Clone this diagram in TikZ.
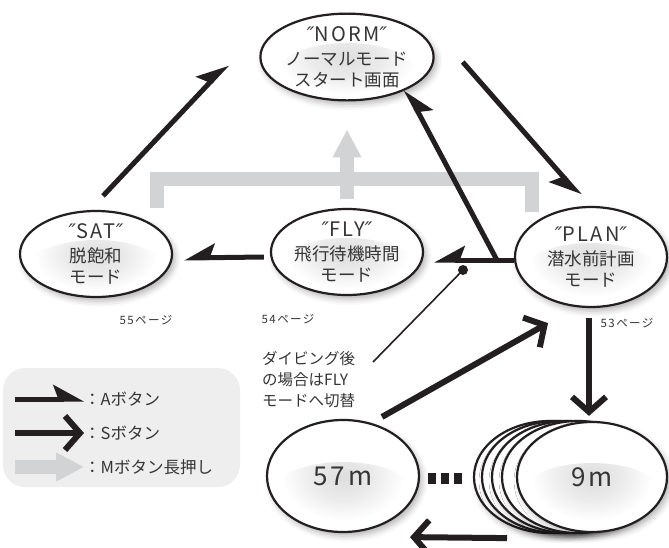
\documentclass[tikz,border=0pt]{standalone}
\usepackage{fontspec}
\setmainfont{Noto Sans CJK JP}
\newfontfamily\spfont[LetterSpace=12]{Noto Sans CJK JP}
\newfontfamily\qfont{DejaVu Sans}
\usetikzlibrary{shapes.geometric,arrows.meta,shadows.blur,positioning}
\definecolor{ink}{HTML}{231F20}
\definecolor{mgray}{HTML}{D1D3D4}
\definecolor{legbg}{HTML}{EEEEEE}
\definecolor{txt}{HTML}{363435}
\pgfdeclareradialshading{blob}{\pgfpointorigin}{color(0bp)=(black!13); color(10bp)=(black!8);
  color(20bp)=(white); color(50bp)=(white)}

\tikzset{
  mode/.style={ellipse, draw=ink, line width=2.2pt, fill=white, minimum width=152pt,
    minimum height=86pt, inner sep=0pt, align=center, text=txt,
    font=\fontsize{17.5}{21}\selectfont,
    path picture={\shade[shading=blob]
      ([yshift=-16pt]path picture bounding box.center) ellipse (70pt and 30pt);},
    blur shadow={shadow xshift=3pt, shadow yshift=-4pt, shadow blur radius=6pt, shadow opacity=30}},
  depth/.style={mode, minimum width=152pt, minimum height=112pt,
    font=\spfont\fontsize{26}{30}\selectfont},
  aarrow/.style={draw=ink, line width=5pt, -{Stealth[harpoon, length=26pt, width=28pt, inset=5pt]}},
  aarrowr/.style={draw=ink, line width=5pt, -{Stealth[harpoon, swap, length=26pt, width=28pt, inset=5pt]}},
  sarrow/.style={draw=ink, line width=6pt, -{Straight Barb[length=15pt, width=34pt, line width=6pt]}},
  mline/.style={draw=mgray, line width=14pt},
  marrow/.style={mline, -{Triangle[length=28pt, width=27pt]}},
  pagelbl/.style={text=txt, font=\spfont\fontsize{11.5}{13}\selectfont},
  legtxt/.style={text=txt, anchor=west, inner sep=0pt, font=\fontsize{16.5}{18}\selectfont},
  dotsq/.style={rectangle, fill=ink, minimum width=8pt, minimum height=11pt, inner sep=0pt},
}

\newcommand{\modetitle}[1]{{\fontsize{20}{22}\selectfont{\qfont\itshape″}\spfont#1{\qfont\itshape″}}\\[3pt]}

\begin{document}
\begin{tikzpicture}[x=1pt, y=-1pt]
  \useasboundingbox (0,0) rectangle (669,547);

  % modes
  \node[mode] (sat) at (96,254) {\modetitle{SAT}脱飽和\\モード};
  \node[mode] (fly) at (347,252) {\modetitle{FLY}飛行待機時間\\モード};
  \node[mode, minimum height=100pt] (plan) at (591,257) {\modetitle{PLAN}潜水前計画\\モード};
  \node[mode] (norm) at (347,57) {\modetitle{NORM}ノーマルモード\\スタート画面};

  % M button
  \draw[mline] ([xshift=60.5pt,yshift=2pt]sat.north) -- ++(0,-28.5)
    -| ([xshift=-59.5pt,yshift=-6pt]plan.north);
  \draw[marrow] ([yshift=9pt]fly.north) -- ([yshift=-28pt]norm.south);

  % depth ellipses
  \foreach \dx [count=\i] in {42,34,24,14}
    \node[depth] (stack\i) at (592-\dx,477) {};
  \node[depth, minimum width=150pt, minimum height=110pt] (shallow) at (592,477) {9m};
  \node[depth] (deep) at (343,476) {57m};
  \foreach \k in {0,1,2}
    \node[dotsq] (dot\k) at (432+13*\k,478) {};

  % A button
  \draw[aarrow] ([xshift=7pt,yshift=14pt]sat.north) -- ([xshift=-32pt,yshift=-7pt]norm.west);
  \draw[aarrowr] ([xshift=28pt,yshift=-5pt]norm.east) -- ([xshift=-11pt,yshift=10pt]plan.north);
  \draw[aarrowr] ([xshift=-6pt,yshift=-5pt]fly.west) -- ([xshift=11pt,yshift=-4pt]sat.east);
  \coordinate (junc) at ([xshift=-17pt,yshift=-3pt]plan.west);
  \draw[aarrowr] ([yshift=-3pt]plan.west) -- ([xshift=10pt,yshift=-8pt]fly.east);
  \draw[aarrowr] (junc) -- ([xshift=59pt,yshift=12pt]norm.south);

  % S button
  \draw[sarrow] ([xshift=-2pt,yshift=-10pt]plan.south) -- ([xshift=-3pt,yshift=5pt]shallow.north);
  \draw[sarrow] ([xshift=39pt,yshift=2pt]deep.north) -- ([xshift=-43pt,yshift=-15pt]plan.south);
  \draw[sarrow] ([xshift=-85pt,yshift=-5pt]shallow.south) -- ([xshift=67pt,yshift=-4pt]deep.south);

  % note
  \node[circle, fill=ink, minimum size=10pt, inner sep=0pt] (pin) at (463,270) {};
  \node[anchor=north west, align=left, inner sep=0pt, text=txt,
    font=\fontsize{15.5}{21}\selectfont] (note) at (262,351) {ダイビング後\\の場合はFLY\\モードへ切替};
  \coordinate (pinend) at (373,362);
  \draw[ink, line width=1.6pt] (pin.center) -- (pinend);

  % pages
  \node[pagelbl] (p55) at (146,320) {55ページ};
  \node[pagelbl] (p54) at (288,319) {54ページ};
  \node[pagelbl] (p53) at (627,323) {53ページ};

  % legend
  \node[fill=legbg, rounded corners=22pt, minimum width=237pt, minimum height=119pt] (legend) at (121.5,427.5) {};
  \node[legtxt] (labA) at (84,399) {：Aボタン};
  \node[legtxt] (labS) at (84,433) {：Sボタン};
  \node[legtxt] (labM) at (84,467) {：Mボタン長押し};
  \draw[aarrow] ([xshift=-69pt]labA.west) -- (labA.west);
  \draw[sarrow] ([xshift=-69pt]labS.west) -- (labS.west);
  \draw[marrow] ([xshift=-69pt]labM.west) -- (labM.west);
\end{tikzpicture}
\end{document}
